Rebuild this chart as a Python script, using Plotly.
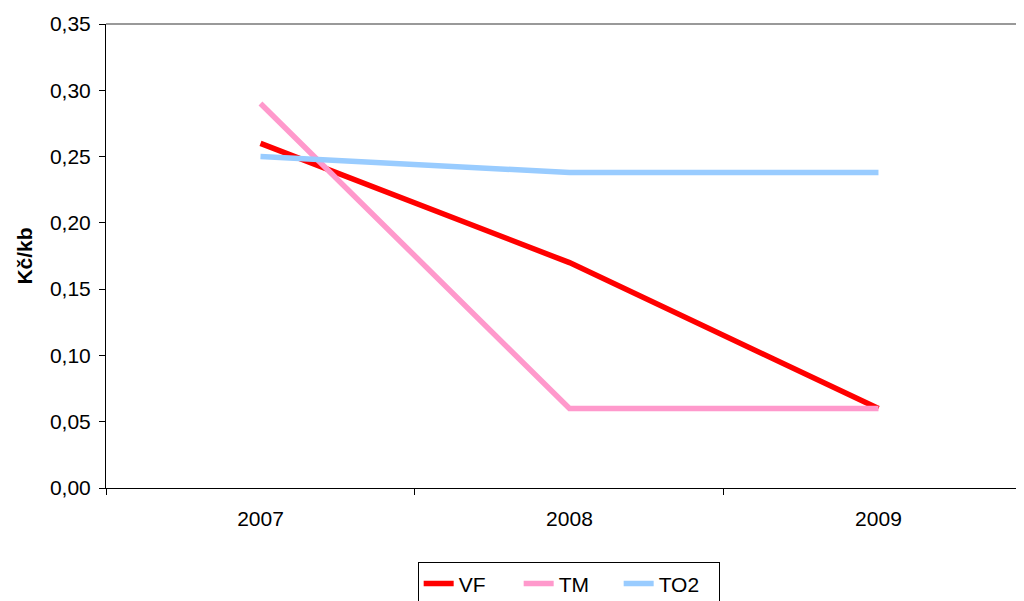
import plotly.graph_objects as go

years = ["2007", "2008", "2009"]
vf = [0.26, 0.17, 0.06]
tm = [0.29, 0.06, 0.06]
to2 = [0.25, 0.238, 0.238]
y_ticks = [0.0, 0.05, 0.10, 0.15, 0.20, 0.25, 0.30, 0.35]
y_labels = ["0,00", "0,05", "0,10", "0,15", "0,20", "0,25", "0,30", "0,35"]

FONT = "Liberation Sans, Arial, sans-serif"

fig = go.Figure()
for name, vals, col in [("VF", vf, "#FF0000"), ("TM", tm, "#FF99CC"), ("TO2", to2, "#99CCFF")]:
    fig.add_trace(go.Scatter(x=years, y=vals, name=name, mode="lines",
                             line=dict(color=col, width=5.5)))

# page body has an 8px margin, so the figure is offset by (8, 8)
fig.update_layout(
    width=1016, height=593,
    margin=dict(l=98, r=0, t=16, b=113, autoexpand=False),
    paper_bgcolor="white", plot_bgcolor="white",
    font=dict(family=FONT, size=21, color="black"),
    showlegend=True,
    legend=dict(orientation="h", x=0.504, xanchor="center", y=-0.16, yanchor="top",
                bordercolor="black", borderwidth=1, font=dict(size=21),
                entrywidth=55, tracegroupgap=0),
    shapes=[dict(type="line", xref="paper", yref="paper", x0=0, x1=1, y0=1, y1=1,
                 line=dict(color="#999999", width=2), layer="below")],
)
fig.update_xaxes(type="category", range=[-0.5, 2.471], tickson="boundaries",
                 ticks="outside", ticklen=6, tickcolor="black", automargin=False,
                 showline=True, linecolor="black", linewidth=1,
                 showgrid=False, zeroline=False, ticklabelstandoff=12)
fig.update_yaxes(range=[0, 0.35], tickvals=y_ticks, ticktext=y_labels, automargin=False,
                 ticks="outside", ticklen=6, tickcolor="black",
                 showline=True, linecolor="black", linewidth=1,
                 showgrid=False, zeroline=False, ticklabelstandoff=4,
                 title=dict(text="<b>Kč/kb</b>", standoff=11, font=dict(size=21)))

fig.write_html("out.html")
